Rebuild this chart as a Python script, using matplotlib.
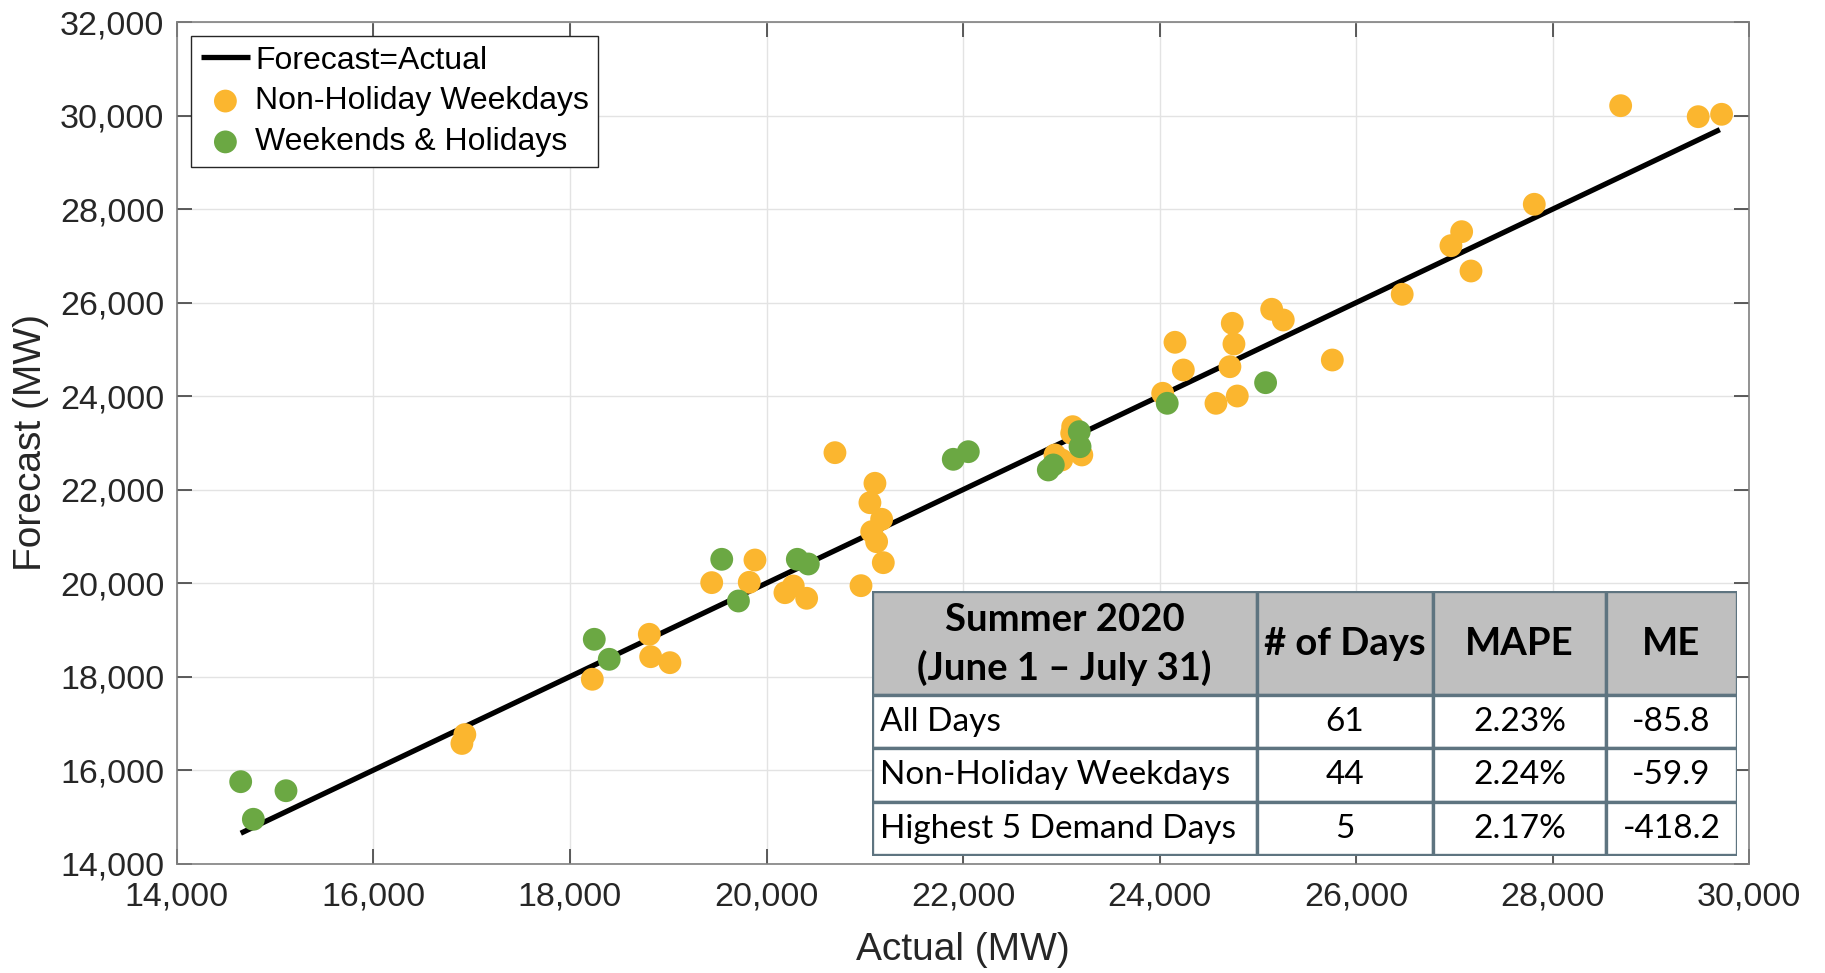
import matplotlib
matplotlib.use("Agg")
import matplotlib.pyplot as plt
from matplotlib.patches import Rectangle
from matplotlib.ticker import FuncFormatter, MultipleLocator

# ---------------- data ----------------
weekday_actual = [16900, 16930, 18227, 18807, 18821, 19017, 19442, 19824, 19882, 20187,
                  20272, 20408, 20696, 20961, 21052, 21103, 21171, 21070, 21120, 21188,
                  22935, 23105, 23115, 23003, 23208, 24031, 24156, 24241, 24573, 24715,
                  24756, 24739, 24790, 25140, 25258, 25757, 26468, 26964, 27073, 27168,
                  27812, 28691, 29480, 29718]
weekday_forecast = [16570, 16760, 17943, 18905, 18426, 18298, 20010, 20017, 20494, 19795,
                    19938, 19675, 22790, 19945, 21720, 22135, 21365, 21100, 20886, 20437,
                    22741, 23205, 23346, 22634, 22741, 24060, 25151, 24558, 23846, 24629,
                    25115, 25557, 24002, 25857, 25628, 24772, 26178, 27218, 27517, 26676,
                    28103, 30212, 29977, 30028]
weekend_actual = [14649, 14778, 15110, 18247, 18399, 19544, 19714, 20313, 20425, 21900,
                  22053, 22867, 22918, 23182, 23190, 24077, 25078]
weekend_forecast = [15752, 14948, 15559, 18798, 18370, 20509, 19617, 20509, 20409, 22648,
                    22811, 22420, 22527, 23239, 22918, 23846, 24287]
line_range = [14650, 29700]

table_header = ["Summer 2020\n(June 1 \u2013 July 31)", "# of Days", "MAPE", "ME"]
table_rows = [
    ["All Days", "61", "2.23%", "-85.8"],
    ["Non-Holiday Weekdays", "44", "2.24%", "-59.9"],
    ["Highest 5 Demand Days", "5", "2.17%", "-418.2"],
]

# ---------------- style ----------------
ORANGE = "#FBB62F"
GREEN = "#6BA843"
TXT = "#262626"
plt.rcParams["font.family"] = ["Liberation Sans", "DejaVu Sans"]

W, H = 1825, 973
fig = plt.figure(figsize=(W / 100, H / 100), dpi=100)
ax = fig.add_axes([176.9 / W, 1 - 863.6 / H, (1749.3 - 176.9) / W, (863.6 - 22.1) / H])

ax.plot(line_range, line_range, color="black", lw=3.8, solid_capstyle="butt",
        label="Forecast=Actual", zorder=3)
ax.scatter(weekday_actual, weekday_forecast, s=270, color=ORANGE, edgecolors="none",
           label="Non-Holiday Weekdays", zorder=4)
ax.scatter(weekend_actual, weekend_forecast, s=270, color=GREEN, edgecolors="none",
           label="Weekends & Holidays", zorder=4)

ax.set_xlim(14000, 30000)
ax.set_ylim(14000, 32000)
ax.xaxis.set_major_locator(MultipleLocator(2000))
ax.yaxis.set_major_locator(MultipleLocator(2000))
fmt = FuncFormatter(lambda v, p: f"{int(v):,}")
ax.xaxis.set_major_formatter(fmt)
ax.yaxis.set_major_formatter(fmt)
ax.grid(True, color="#E3E3E3", lw=1.0, zorder=0)
ax.set_axisbelow(True)
for sp in ax.spines.values():
    sp.set_color("#808080")
    sp.set_linewidth(1.2)
ax.tick_params(axis="both", which="major", direction="in", length=11, width=1.2,
               color="#404040", labelsize=24.5, labelcolor=TXT,
               top=True, right=True)
ax.tick_params(axis="x", pad=13)
ax.tick_params(axis="y", pad=9)
ax.set_xlabel("Actual (MW)", fontsize=28, color=TXT, labelpad=14)
ax.set_ylabel("Forecast (MW)", fontsize=28, color=TXT, labelpad=8)

leg = ax.legend(loc="upper left", bbox_to_anchor=(0.009, 0.9835), borderaxespad=0,
                fontsize=23, frameon=True, fancybox=False, framealpha=1,
                edgecolor="#262626", handlelength=1.55, handletextpad=0.15,
                labelspacing=0.34, borderpad=0.3, markerscale=1.0)
leg.get_frame().set_linewidth(1.0)
for t in leg.get_texts():
    t.set_color("black")

# ---------------- table ----------------
tl, tt, tr, tb = 871.8, 591.3, 1736.6, 855.5
tax = fig.add_axes([tl / W, 1 - tb / H, (tr - tl) / W, (tb - tt) / H])
tax.set_xlim(0, tr - tl)
tax.set_ylim(tb - tt, 0)
tax.axis("off")
col_edges = [0, 385.2, 561.0, 734.4, tr - tl]
row_edges = [0, 103.6, 157.1, 210.6, tb - tt]
BORDER = "#5E7480"
TFONT = ["Lato", "DejaVu Sans"]

for r in range(4):
    for c in range(4):
        x0, x1 = col_edges[c], col_edges[c + 1]
        y0, y1 = row_edges[r], row_edges[r + 1]
        fc = "#BFBFBF" if r == 0 else "white"
        tax.add_patch(Rectangle((x0, y0), x1 - x0, y1 - y0, facecolor=fc,
                                edgecolor=BORDER, lw=2.4, zorder=1))
        if r == 0:
            txt = table_header[c]
            tax.text((x0 + x1) / 2, (y0 + y1) / 2 + 1, txt, ha="center", va="center",
                     fontsize=27.5, fontweight="bold", family=TFONT, color="black",
                     linespacing=1.42, zorder=2)
        else:
            txt = table_rows[r - 1][c]
            if c == 0:
                tax.text(x0 + 8, (y0 + y1) / 2, txt, ha="left", va="center",
                         fontsize=24, family=TFONT, color="black", zorder=2)
            else:
                tax.text((x0 + x1) / 2, (y0 + y1) / 2, txt, ha="center", va="center",
                         fontsize=24, family=TFONT, color="black", zorder=2)

fig.savefig("out.png", dpi=100)
